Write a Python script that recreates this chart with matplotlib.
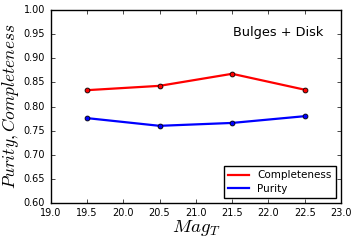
import matplotlib
matplotlib.use('Agg')
import matplotlib.pyplot as plt

plt.style.use('classic')

mag = [19.5, 20.5, 21.5, 22.5]
completeness = [0.834, 0.843, 0.868, 0.835]
purity = [0.776, 0.760, 0.766, 0.780]

fig = plt.figure(figsize=(3.57, 2.43), dpi=100, facecolor='white')
ax = fig.add_axes([0.142, 0.165, 0.813, 0.793])

ax.plot(mag, completeness, '-o', color='red', lw=1.6, ms=3.5, mfc='red', mec='black', mew=0.6, label='Completeness')
ax.plot(mag, purity, '-o', color='blue', lw=1.6, ms=3.5, mfc='blue', mec='black', mew=0.6, label='Purity')

ax.set_xlim(19.0, 23.0)
ax.set_ylim(0.60, 1.00)
ax.set_xticks([19.0, 19.5, 20.0, 20.5, 21.0, 21.5, 22.0, 22.5, 23.0])
ax.set_yticks([0.60, 0.65, 0.70, 0.75, 0.80, 0.85, 0.90, 0.95, 1.00])
ax.tick_params(labelsize=7, length=3, direction='in', top=True, right=True)
ax.set_xticklabels(['%.1f' % t for t in ax.get_xticks()])
ax.set_yticklabels(['%.2f' % t for t in ax.get_yticks()])
ax.set_xlabel(r'$Mag_T$', fontsize=13.5, labelpad=0)
ax.set_ylabel(r'$Purity, Completeness$', fontsize=12.5)
ax.yaxis.set_label_coords(-0.102, 0.5)
ax.text(0.94, 0.885, 'Bulges + Disk', transform=ax.transAxes, ha='right', va='center', fontsize=9.3)

leg = ax.legend(loc='lower right', fontsize=7.5, handlelength=2.0, borderpad=0.4, labelspacing=0.3, fancybox=False, numpoints=1, markerscale=0)
for h in leg.legend_handles:
    h.set_marker('')

fig.savefig('out.png', dpi=100, facecolor='white')
